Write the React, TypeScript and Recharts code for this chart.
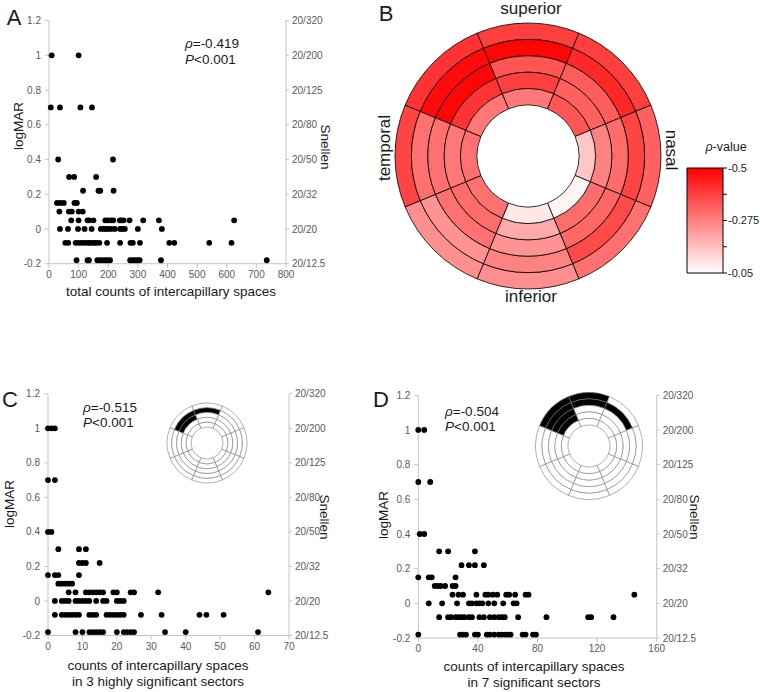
import React from 'react';
import { ScatterChart, Scatter, XAxis, YAxis, PieChart, Pie, Cell, BarChart, Bar } from 'recharts';

// ---------------- data ----------------
const LOGMAR_LEVELS = [1.0, 0.7, 0.4, 0.3, 0.22, 0.15, 0.1, 0.05, 0, -0.08, -0.18];

// counts per logMAR level (same order as LOGMAR_LEVELS)
const A_COUNTS: number[][] = [
  [9, 100],
  [6, 37, 106, 145],
  [31, 216],
  [68, 85, 159],
  [115, 167, 173, 218],
  [27, 38, 50, 86, 94],
  [35, 67, 77, 100, 114],
  [75, 100, 130, 136, 150, 190, 199, 210, 217, 239, 245, 252, 272, 318, 371, 625],
  [37, 64, 98, 120, 144, 175, 185, 193, 200, 210, 222, 240, 248, 256, 300, 381],
  [55, 65, 90, 100, 110, 120, 130, 136, 145, 153, 160, 170, 196, 240, 275, 283, 307, 406, 423, 541, 616],
  [93, 130, 135, 163, 172, 180, 190, 197, 206, 274, 282, 290, 298, 306, 378, 735],
];
const C_COUNTS: number[][] = [
  [0, 1, 2],
  [0, 2],
  [0, 1],
  [3, 9, 11],
  [9, 10, 11, 15],
  [0, 2, 3, 9],
  [3, 4, 5, 6, 7],
  [6, 8, 11, 12, 13, 14, 15, 16, 19, 20, 24, 25, 32, 64],
  [2, 4, 5, 6, 8, 9, 10, 11, 12, 14, 16, 17, 20, 21, 22],
  [2, 4, 5, 6, 7, 8, 9, 12, 13, 14, 17, 18, 19, 20, 21, 22, 27, 33, 44, 46, 51],
  [0, 8, 10, 12, 13, 14, 15, 16, 20, 22, 23, 24, 25, 34, 40, 61],
];
const D_COUNTS: number[][] = [
  [0, 4],
  [0, 8],
  [1, 4],
  [14, 20, 38],
  [29, 34, 38, 44],
  [0, 7, 9, 25],
  [11, 13, 15, 18, 23, 25],
  [23, 27, 30, 39, 45, 47, 50, 53, 59, 61, 65, 72, 74, 145],
  [7, 16, 26, 34, 36, 39, 41, 43, 47, 51, 57, 64, 66],
  [14, 20, 22, 25, 27, 29, 31, 34, 36, 41, 44, 48, 51, 54, 56, 58, 67, 86, 114, 116, 131],
  [0, 28, 30, 32, 38, 40, 46, 48, 51, 54, 56, 58, 60, 62, 70, 72, 77, 79],
];

const LOGMAR_TICKS = [-0.2, 0, 0.2, 0.4, 0.6, 0.8, 1, 1.2];
const SNELLEN_LABELS = ['20/12.5', '20/20', '20/32', '20/50', '20/80', '20/125', '20/200', '20/320'];
const A_X_TICKS = [0, 100, 200, 300, 400, 500, 600, 700, 800];
const C_X_TICKS = [0, 10, 20, 30, 40, 50, 60, 70];
const D_X_TICKS = [0, 40, 80, 120, 160];

const A_STATS = ['-0.419', '<0.001'];
const C_STATS = ['-0.515', '<0.001'];
const D_STATS = ['-0.504', '<0.001'];

// sectors clockwise starting at superior
const SECTORS = ['superior', 'superior-nasal', 'nasal', 'inferior-nasal', 'inferior', 'inferior-temporal', 'temporal', 'superior-temporal'];
// rho per ring, outer (1) to inner (5), in SECTORS order
const RHO_RING1 = [-0.39, -0.39, -0.33, -0.3, -0.25, -0.25, -0.38, -0.41];
const RHO_RING2 = [-0.49, -0.43, -0.38, -0.37, -0.27, -0.24, -0.3, -0.48];
const RHO_RING3 = [-0.35, -0.34, -0.31, -0.32, -0.24, -0.3, -0.3, -0.49];
const RHO_RING4 = [-0.39, -0.33, -0.27, -0.31, -0.2, -0.31, -0.29, -0.41];
const RHO_RING5 = [-0.29, -0.35, -0.15, -0.07, -0.09, -0.3, -0.3, -0.29];
const RHO_RINGS = [RHO_RING1, RHO_RING2, RHO_RING3, RHO_RING4, RHO_RING5];

const SCALE_TICKS = [-0.5, -0.3875, -0.275, -0.1625, -0.05];
const SCALE_LABELS = ['-0.5', '', '-0.275', '', '-0.05'];

// highlighted cells: "sector:ring"
const C_MARKED = ['superior:2', 'superior-temporal:2', 'superior-temporal:3'];
const D_MARKED = ['superior:1', 'superior:2', 'superior-nasal:2', 'superior-temporal:1', 'superior-temporal:2', 'superior-temporal:3', 'superior-temporal:4'];

// ---------------- helpers ----------------
const AXIS_GREY = '#c4c4c4';
const TICK_TEXT = '#595959';
const INK = '#1a1a1a';
const FONT = "'Liberation Sans', Arial, sans-serif";

const toPoints = (counts: number[][]) =>
  counts.flatMap((row, i) => row.map((x) => ({ x, y: LOGMAR_LEVELS[i] })));

const rhoColor = (rho: number) => {
  const t = Math.max(0, Math.min(1, (rho + 0.05) / -0.45));
  const g = Math.round(255 * (1 - t));
  return `rgb(255,${g},${g})`;
};

const Dot = (p: any) => <circle cx={p.cx} cy={p.cy} r={2.9} fill="#000" />;

function ScatterPanel(props: any) {
  const { left, top, width, height, margin, leftWidth, data, xMax, xTicks } = props;
  return (
    <div style={{ position: 'absolute', left, top }}>
      <ScatterChart width={width} height={height} margin={margin}>
        <XAxis
          type="number"
          dataKey="x"
          domain={[0, xMax]}
          ticks={xTicks}
          interval={0}
          height={30}
          axisLine={{ stroke: AXIS_GREY }}
          tickLine={{ stroke: AXIS_GREY }}
          tickSize={4}
          tickMargin={3}
          tick={{ fill: TICK_TEXT, fontSize: 10 }}
        />
        <YAxis
          yAxisId="L"
          type="number"
          dataKey="y"
          domain={[-0.2, 1.2]}
          ticks={LOGMAR_TICKS}
          interval={0}
          width={leftWidth}
          axisLine={{ stroke: AXIS_GREY }}
          tickLine={{ stroke: AXIS_GREY }}
          tickSize={4}
          tickMargin={4}
          tick={{ fill: TICK_TEXT, fontSize: 10 }}
          tickFormatter={(v: number) => String(v)}
        />
        <YAxis
          yAxisId="R"
          orientation="right"
          type="number"
          domain={[-0.2, 1.2]}
          allowDataOverflow
          ticks={LOGMAR_TICKS}
          interval={0}
          width={50}
          axisLine={{ stroke: AXIS_GREY }}
          tickLine={{ stroke: AXIS_GREY }}
          tickSize={3}
          tickMargin={3}
          tick={{ fill: TICK_TEXT, fontSize: 10, textAnchor: 'start' }}
          tickFormatter={(v: number) => SNELLEN_LABELS[LOGMAR_TICKS.indexOf(v)]}
        />
        <Scatter yAxisId="L" data={data} isAnimationActive={false} shape={Dot} />
      </ScatterChart>
    </div>
  );
}

function RingChart(props: any) {
  const { left, top, size, outerR, innerR, fillFor, stroke, strokeWidth } = props;
  const w = (outerR - innerR) / 5;
  return (
    <div style={{ position: 'absolute', left, top }}>
      <PieChart width={size} height={size} margin={{ top: 0, right: 0, bottom: 0, left: 0 }}>
        {RHO_RINGS.map((ring, k) => {
          const ringData = SECTORS.map((s, i) => ({ sector: s, ring: k + 1, rho: ring[i], value: 1 }));
          return (
            <Pie
              key={k}
              data={ringData}
              dataKey="value"
              cx={size / 2}
              cy={size / 2}
              outerRadius={outerR - k * w}
              innerRadius={outerR - (k + 1) * w}
              startAngle={112.5}
              endAngle={-247.5}
              paddingAngle={0}
              stroke={stroke}
              strokeWidth={strokeWidth}
              isAnimationActive={false}
              labelLine={false}
              label={false}
            >
              {ringData.map((d, i) => (
                <Cell key={i} fill={fillFor(d)} />
              ))}
            </Pie>
          );
        })}
      </PieChart>
    </div>
  );
}

const Txt = (props: any) => {
  const { x, y, size, rotate = 0, children, color = INK } = props;
  return (
    <div
      style={{
        position: 'absolute',
        left: x,
        top: y,
        transform: `translate(-50%, -50%) rotate(${rotate}deg)`,
        fontSize: size,
        lineHeight: `${size}px`,
        whiteSpace: 'nowrap',
        color,
      }}
    >
      {children}
    </div>
  );
};

const Stats = (props: any) => {
  const { x, y, stats } = props;
  return (
    <div style={{ position: 'absolute', left: x, top: y, fontSize: 13.5, lineHeight: '15.5px', color: INK, whiteSpace: 'nowrap' }}>
      <div><i>ρ</i>={stats[0]}</div>
      <div><i>P</i>{stats[1]}</div>
    </div>
  );
};

export default function App() {
  const aData = toPoints(A_COUNTS);
  const cData = toPoints(C_COUNTS);
  const dData = toPoints(D_COUNTS);
  const scaleData = [{ name: 'scale', range: [-0.5, -0.05] }];

  return (
    <div
      style={{
        position: 'absolute',
        left: 0,
        top: 0,
        width: 760,
        height: 692,
        background: '#fff',
        overflow: 'hidden',
        fontFamily: FONT,
      }}
    >
      {/* Panel A */}
      <ScatterPanel
        left={0}
        top={0}
        width={380}
        height={300}
        margin={{ top: 20.6, right: 44, bottom: 6.3, left: 0 }}
        leftWidth={49}
        data={aData}
        xMax={800}
        xTicks={A_X_TICKS}
      />
      {/* Panel C */}
      <ScatterPanel
        left={0}
        top={340}
        width={380}
        height={352}
        margin={{ top: 53.8, right: 41, bottom: 26.5, left: 0 }}
        leftWidth={48}
        data={cData}
        xMax={70}
        xTicks={C_X_TICKS}
      />
      {/* Panel D */}
      <ScatterPanel
        left={380}
        top={340}
        width={380}
        height={352}
        margin={{ top: 55.3, right: 53.3, bottom: 24, left: 0 }}
        leftWidth={38.3}
        data={dData}
        xMax={160}
        xTicks={D_X_TICKS}
      />

      {/* Panel B ring map */}
      <RingChart
        left={378}
        top={6}
        size={300}
        outerR={133}
        innerR={51}
        stroke="#000"
        strokeWidth={0.8}
        fillFor={(d: any) => rhoColor(d.rho)}
      />

      {/* colour scale */}
      <div style={{ position: 'absolute', left: 660, top: 150 }}>
        <BarChart width={100} height={140} data={scaleData} margin={{ top: 18, right: 0, bottom: 17, left: 27 }} barCategoryGap={0}>
          <defs>
            <linearGradient id="rhoGrad" x1="0" y1="0" x2="0" y2="1">
              <stop offset="0" stopColor="#ff0000" />
              <stop offset="1" stopColor="#ffffff" />
            </linearGradient>
          </defs>
          <XAxis dataKey="name" hide />
          <YAxis
            orientation="right"
            type="number"
            domain={[-0.5, -0.05]}
            reversed
            ticks={SCALE_TICKS}
            interval={0}
            width={37}
            axisLine={false}
            tickLine={{ stroke: '#000' }}
            tickSize={4}
            tickMargin={1}
            tick={{ fill: INK, fontSize: 11 }}
            tickFormatter={(v: number) => SCALE_LABELS[SCALE_TICKS.indexOf(v)]}
          />
          <Bar dataKey="range" fill="url(#rhoGrad)" stroke="#000" strokeWidth={1} isAnimationActive={false} />
        </BarChart>
      </div>

      {/* insets */}
      <RingChart
        left={207 - 45}
        top={443 - 45}
        size={90}
        outerR={40}
        innerR={16}
        stroke="#7a7a7a"
        strokeWidth={0.6}
        fillFor={(d: any) => (C_MARKED.includes(`${d.sector}:${d.ring}`) ? '#000' : '#fff')}
      />
      <RingChart
        left={589 - 60}
        top={446 - 60}
        size={120}
        outerR={53.5}
        innerR={21}
        stroke="#7a7a7a"
        strokeWidth={0.6}
        fillFor={(d: any) => (D_MARKED.includes(`${d.sector}:${d.ring}`) ? '#000' : '#fff')}
      />

      {/* panel letters */}
      <Txt x={14} y={17.5} size={22}>A</Txt>
      <Txt x={386} y={14} size={22}>B</Txt>
      <Txt x={10} y={399.5} size={22}>C</Txt>
      <Txt x={381} y={400} size={22}>D</Txt>

      {/* axis titles A */}
      <Txt x={19} y={126} size={13.5} rotate={-90}>logMAR</Txt>
      <Txt x={325} y={147} size={13.5} rotate={90}>Snellen</Txt>
      <Txt x={171} y={292} size={13.5}>total counts of intercapillary spaces</Txt>

      {/* axis titles C */}
      <Txt x={9.5} y={504} size={13.5} rotate={-90}>logMAR</Txt>
      <Txt x={324} y={517} size={13.5} rotate={90}>Snellen</Txt>
      <Txt x={158} y={666} size={13.5}>counts of intercapillary spaces</Txt>
      <Txt x={158} y={681.5} size={13.5}>in 3 highly significant sectors</Txt>

      {/* axis titles D */}
      <Txt x={384} y={515} size={13.5} rotate={-90}>logMAR</Txt>
      <Txt x={694} y={516.5} size={13.5} rotate={90}>Snellen</Txt>
      <Txt x={534} y={667} size={13.5}>counts of intercapillary spaces</Txt>
      <Txt x={534} y={682.5} size={13.5}>in 7 significant sectors</Txt>

      {/* statistics */}
      <Stats x={185} y={36} stats={A_STATS} />
      <Stats x={83} y={399.5} stats={C_STATS} />
      <Stats x={445} y={403.5} stats={D_STATS} />

      {/* B labels */}
      <Txt x={531} y={8} size={17}>superior</Txt>
      <Txt x={531} y={296} size={17}>inferior</Txt>
      <Txt x={384} y={148} size={17} rotate={-90}>temporal</Txt>
      <Txt x={671} y={150} size={17} rotate={90}>nasal</Txt>
      <Txt x={726} y={147} size={12.5}><i>ρ</i>-value</Txt>
    </div>
  );
}
